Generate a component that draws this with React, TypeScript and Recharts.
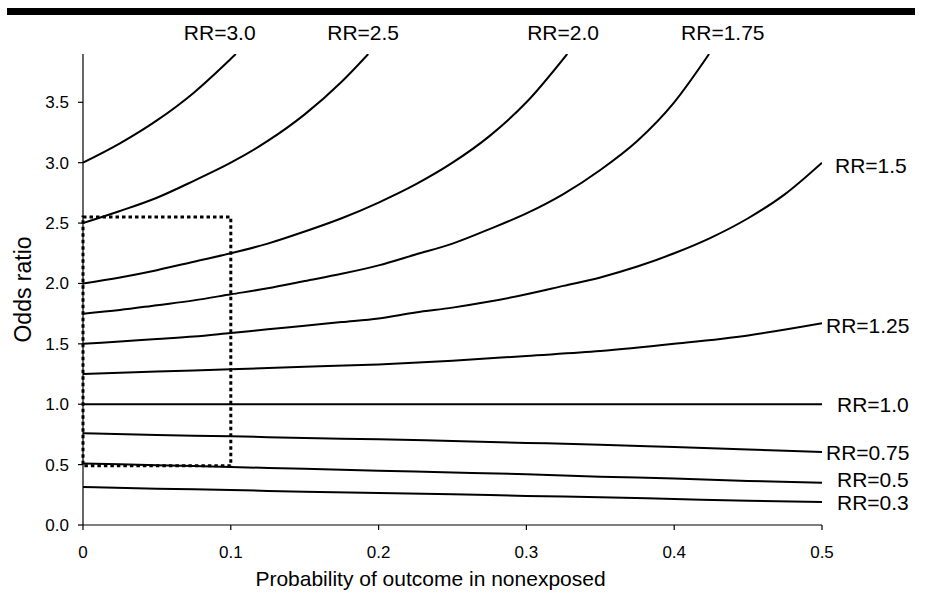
import React from 'react';
import { LineChart, Line, XAxis, YAxis, ReferenceArea } from 'recharts';

// Probability of outcome in nonexposed (x) and odds ratio (y), per relative-risk curve
const P_RR30 = [0, 0.025, 0.05, 0.075, 0.1, 0.1034];
const OR_RR30 = [3.0, 3.16, 3.35, 3.58, 3.86, 3.9];

const P_RR25 = [0, 0.025, 0.05, 0.075, 0.1, 0.125, 0.15, 0.175, 0.193];
const OR_RR25 = [2.5, 2.6, 2.71, 2.85, 3.0, 3.18, 3.4, 3.67, 3.9];

const P_RR20 = [0, 0.025, 0.05, 0.075, 0.1, 0.125, 0.15, 0.175, 0.2, 0.225, 0.25, 0.275, 0.3, 0.3276];
const OR_RR20 = [2.0, 2.05, 2.11, 2.18, 2.25, 2.33, 2.43, 2.54, 2.67, 2.82, 3.0, 3.22, 3.5, 3.9];

const P_RR175 = [0, 0.025, 0.05, 0.075, 0.1, 0.125, 0.15, 0.175, 0.2, 0.225, 0.25, 0.275, 0.3, 0.325, 0.35, 0.375, 0.4, 0.4236];
const OR_RR175 = [1.75, 1.78, 1.82, 1.86, 1.91, 1.96, 2.02, 2.08, 2.15, 2.24, 2.33, 2.45, 2.58, 2.74, 2.94, 3.18, 3.5, 3.9];

const P_RR15 = [0, 0.025, 0.05, 0.075, 0.1, 0.125, 0.15, 0.175, 0.2, 0.225, 0.25, 0.275, 0.3, 0.325, 0.35, 0.375, 0.4, 0.425, 0.45, 0.475, 0.5];
const OR_RR15 = [1.5, 1.52, 1.54, 1.56, 1.59, 1.62, 1.65, 1.68, 1.71, 1.76, 1.8, 1.85, 1.91, 1.98, 2.05, 2.14, 2.25, 2.38, 2.54, 2.74, 3.0];

const P_STEP = [0, 0.05, 0.1, 0.15, 0.2, 0.25, 0.3, 0.35, 0.4, 0.45, 0.5];
const OR_RR125 = [1.25, 1.27, 1.29, 1.31, 1.33, 1.36, 1.4, 1.44, 1.5, 1.57, 1.67];
const P_RR10 = [0, 0.5];
const OR_RR10 = [1.0, 1.0];
const OR_RR075 = [0.76, 0.745, 0.735, 0.72, 0.71, 0.695, 0.68, 0.665, 0.645, 0.625, 0.605];
const OR_RR05 = [0.51, 0.495, 0.48, 0.465, 0.45, 0.435, 0.42, 0.4, 0.385, 0.365, 0.35];
const OR_RR03 = [0.315, 0.3, 0.29, 0.275, 0.265, 0.255, 0.24, 0.23, 0.215, 0.2, 0.19];

const SERIES_LABELS = ['RR=3.0', 'RR=2.5', 'RR=2.0', 'RR=1.75', 'RR=1.5', 'RR=1.25', 'RR=1.0', 'RR=0.75', 'RR=0.5', 'RR=0.3'];

const X_TICKS = [0, 0.1, 0.2, 0.3, 0.4, 0.5];
const Y_TICKS = [0, 0.5, 1.0, 1.5, 2.0, 2.5, 3.0, 3.5];

const X_TITLE = 'Probability of outcome in nonexposed';
const Y_TITLE = 'Odds ratio';

// Box highlighting the region of interest
const BOX_P = [0, 0.1];
const BOX_OR = [0.49, 2.55];

const zip = (ps: number[], ors: number[]) => ps.map((p, i) => ({ p, or: ors[i] }));

const SERIES = [
  { name: SERIES_LABELS[0], data: zip(P_RR30, OR_RR30) },
  { name: SERIES_LABELS[1], data: zip(P_RR25, OR_RR25) },
  { name: SERIES_LABELS[2], data: zip(P_RR20, OR_RR20) },
  { name: SERIES_LABELS[3], data: zip(P_RR175, OR_RR175) },
  { name: SERIES_LABELS[4], data: zip(P_RR15, OR_RR15) },
  { name: SERIES_LABELS[5], data: zip(P_STEP, OR_RR125) },
  { name: SERIES_LABELS[6], data: zip(P_RR10, OR_RR10) },
  { name: SERIES_LABELS[7], data: zip(P_STEP, OR_RR075) },
  { name: SERIES_LABELS[8], data: zip(P_STEP, OR_RR05) },
  { name: SERIES_LABELS[9], data: zip(P_STEP, OR_RR03) },
];

// label placement offsets (pixels) relative to the curve's last point
const LABEL_OFFSETS = [
  { dx: -52, dy: -22 },
  { dx: -41, dy: -22 },
  { dx: -40, dy: -22 },
  { dx: -28, dy: -22 },
  { dx: 13, dy: 3 },
  { dx: 4, dy: 2 },
  { dx: 15, dy: 0 },
  { dx: 4, dy: 1 },
  { dx: 15, dy: -3 },
  { dx: 15, dy: 0 },
];

const FONT = '"Liberation Sans", Arial, Helvetica, sans-serif';

const makeLabel = (idx: number, last: number) => (props: any) => {
  if (props.index !== last) return null;
  const o = LABEL_OFFSETS[idx];
  return (
    <text
      x={props.x + o.dx}
      y={props.y + o.dy}
      textAnchor="start"
      dominantBaseline="central"
      fontSize={21}
      fontFamily={FONT}
      fill="#000"
    >
      {SERIES[idx].name}
    </text>
  );
};

const YLabel = (props: any) => {
  const vb = props.viewBox || {};
  const cx = vb.x + 23;
  const cy = vb.y + vb.height / 2;
  return (
    <text
      x={cx}
      y={cy}
      transform={`rotate(-90, ${cx}, ${cy})`}
      textAnchor="middle"
      dominantBaseline="central"
      fontSize={23}
      fontFamily={FONT}
      fill="#000"
    >
      {Y_TITLE}
    </text>
  );
};

const XLabel = (props: any) => {
  const vb = props.viewBox || {};
  const cx = vb.x + vb.width / 2 - 22;
  const cy = vb.y + 53;
  return (
    <text x={cx} y={cy} textAnchor="middle" dominantBaseline="central" fontSize={21} fontFamily={FONT} fill="#000">
      {X_TITLE}
    </text>
  );
};

export default function App() {
  return (
    <div style={{ position: 'absolute', left: 0, top: 0, width: 925, height: 604, background: '#fff', fontFamily: FONT }}>
      <div style={{ position: 'absolute', left: 7, top: 8, width: 908, height: 7, background: '#000' }} />
      <LineChart width={925} height={604} margin={{ top: 54, right: 103, bottom: 0, left: 0 }}>
        <XAxis
          type="number"
          dataKey="p"
          domain={[0, 0.5]}
          ticks={X_TICKS}
          tickFormatter={(v: number) => (v === 0 ? '0' : String(v))}
          height={79}
          axisLine={{ stroke: '#000', strokeWidth: 1.2 }}
          tickLine={{ stroke: '#000', strokeWidth: 1.2 }}
          tickSize={5}
          tickMargin={16}
          tick={{ fontSize: 17, fill: '#000', fontFamily: FONT }}
          allowDataOverflow
          label={<XLabel />}
        />
        <YAxis
          type="number"
          domain={[0, 3.9]}
          ticks={Y_TICKS}
          tickFormatter={(v: number) => v.toFixed(1)}
          width={83}
          axisLine={{ stroke: '#000', strokeWidth: 1.2 }}
          tickLine={{ stroke: '#000', strokeWidth: 1.2 }}
          tickSize={5}
          tickMargin={9}
          tick={{ fontSize: 17, fill: '#000', fontFamily: FONT }}
          allowDataOverflow
          label={<YLabel />}
        />
        {SERIES.map((s, i) => (
          <Line
            key={s.name}
            data={s.data}
            dataKey="or"
            name={s.name}
            type="monotone"
            stroke="#000"
            strokeWidth={2}
            dot={false}
            activeDot={false}
            isAnimationActive={false}
            label={makeLabel(i, s.data.length - 1)}
          />
        ))}
        <ReferenceArea
          x1={BOX_P[0]}
          x2={BOX_P[1]}
          y1={BOX_OR[0]}
          y2={BOX_OR[1]}
          fill="none"
          fillOpacity={0}
          stroke="#000"
          strokeWidth={3}
          strokeDasharray="3.5 3"
          ifOverflow="visible"
        />
      </LineChart>
    </div>
  );
}
